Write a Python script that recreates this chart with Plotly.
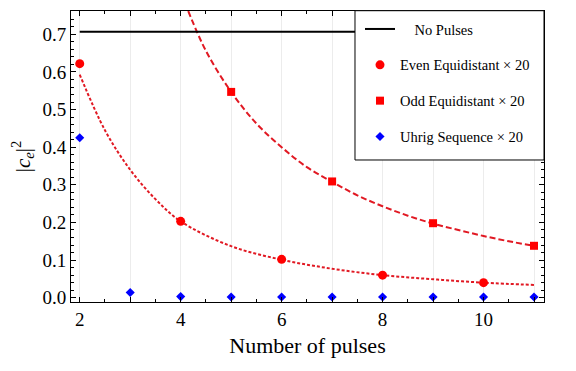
import plotly.graph_objects as go

# data
n_even = [2, 4, 6, 8, 10]
ce_even = [0.622, 0.203, 0.102, 0.060, 0.040]

n_odd = [5, 7, 9, 11]
ce_odd = [0.547, 0.309, 0.198, 0.138]

n_uhrig = [2, 3, 4, 5, 6, 7, 8, 9, 10, 11]
ce_uhrig = [0.425, 0.014, 0.003, 0.002, 0.002, 0.002, 0.002, 0.002, 0.002, 0.002]

no_pulse_x = [2, 11.2]
no_pulse_y = [0.707, 0.707]

# fitted curves
fit_even_x = [2, 2.5, 3, 3.5, 4, 5, 6, 7, 8, 9, 10, 11]
fit_even_y = [0.593, 0.445, 0.340, 0.262, 0.203, 0.137, 0.101, 0.077, 0.060, 0.049, 0.040, 0.034]

fit_odd_x = [4.15, 4.5, 5, 5.5, 6, 6.5, 7, 7.5, 8, 8.5, 9, 9.5, 10, 10.5, 11]
fit_odd_y = [0.762, 0.656, 0.547, 0.463, 0.400, 0.347, 0.308, 0.272, 0.243, 0.218, 0.197, 0.180, 0.164, 0.150, 0.138]

curve_red = "rgb(225,25,35)"
font = "Liberation Serif"

fig = go.Figure()

fig.add_trace(go.Scatter(x=fit_even_x, y=fit_even_y, mode="lines", line_shape="spline",
                         line=dict(color=curve_red, width=2, dash="3px,2px"), showlegend=False))
fig.add_trace(go.Scatter(x=fit_odd_x, y=fit_odd_y, mode="lines", line_shape="spline",
                         line=dict(color=curve_red, width=2, dash="6px,3px"), showlegend=False))

fig.add_trace(go.Scatter(x=no_pulse_x, y=no_pulse_y, mode="lines",
                         name="\u00a0\u00a0\u00a0\u00a0No Pulses",
                         line=dict(color="black", width=2), legendgroup="a"))
fig.add_trace(go.Scatter(x=n_even, y=ce_even, mode="markers", name="Even Equidistant \u00d7 20",
                         marker=dict(color="red", size=9, symbol="circle"), legendgroup="b"))
fig.add_trace(go.Scatter(x=n_odd, y=ce_odd, mode="markers", name="Odd Equidistant \u00d7 20",
                         marker=dict(color="red", size=8, symbol="square"), legendgroup="c"))
fig.add_trace(go.Scatter(x=n_uhrig, y=ce_uhrig, mode="markers", name="Uhrig Sequence \u00d7 20",
                         marker=dict(color="blue", size=7, symbol="diamond"), legendgroup="d"))

fig.update_xaxes(
    range=[1.827, 11.198], automargin=False,
    tickvals=[2, 3, 4, 5, 6, 7, 8, 9, 10, 11],
    ticktext=["2", "", "4", "", "6", "", "8", "", "10", ""],
    ticks="inside", ticklen=5, tickcolor="black",
    minor=dict(tickmode="linear", tick0=0, dtick=0.5, ticks="inside", ticklen=3, tickcolor="black"),
    showline=True, linecolor="black", linewidth=1, mirror="ticks",
    showgrid=True, gridcolor="#ececec", gridwidth=1, zeroline=False,
    tickfont=dict(family=font, size=19, color="black"),
    title=dict(text="Number of pulses", font=dict(family=font, size=22, color="black"), standoff=8),
)
fig.update_yaxes(
    range=[-0.0114, 0.762], automargin=False,
    tick0=0, dtick=0.1, tickformat=".1f",
    ticks="inside", ticklen=5, tickcolor="black",
    minor=dict(tick0=0, dtick=0.02, ticks="inside", ticklen=3, tickcolor="black"),
    showline=True, linecolor="black", linewidth=1, mirror="ticks",
    showgrid=False, zeroline=False,
    tickfont=dict(family=font, size=19, color="black"),
    title=dict(text="|<i>c</i><sub><i>e</i></sub>|<sup>2</sup>",
               font=dict(family=font, size=21, color="black"), standoff=6),
)

# legend frame, drawn over the curves
fig.add_shape(type="rect", xref="paper", yref="paper", layer="above",
              x0=0.6004, x1=1.0, y0=0.488, y1=1.001,
              fillcolor="white", line=dict(color="black", width=1))

fig.update_layout(
    width=576, height=371,
    margin=dict(l=71, r=32, t=11, b=69),
    plot_bgcolor="white", paper_bgcolor="white",
    font=dict(family=font, color="black"),
    legend=dict(x=0.611, y=0.993, xanchor="left", yanchor="top",
                bgcolor="rgba(0,0,0,0)", borderwidth=0,
                font=dict(family=font, size=14.5, color="black"),
                tracegroupgap=14, traceorder="grouped"),
)

fig.write_html("out.html", config={"displayModeBar": False},
               post_script="document.body.style.margin = '0';")
